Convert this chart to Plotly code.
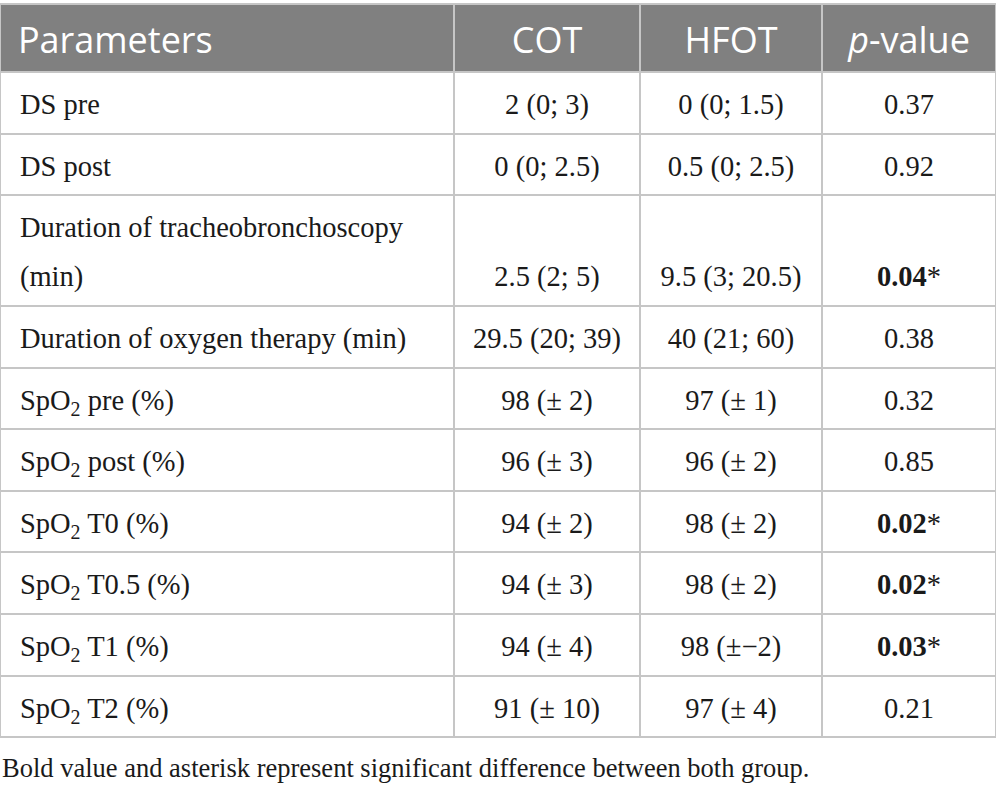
import numpy as np
import plotly.graph_objects as go

header_labels = ["Parameters", "COT", "HFOT", "<i>p</i>-value"]
parameters = [
    "DS pre",
    "DS post",
    "Duration of tracheobronchoscopy<br>(min)",
    "Duration of oxygen therapy (min)",
    "SpO<sub>2</sub> pre (%)",
    "SpO<sub>2</sub> post (%)",
    "SpO<sub>2</sub> T0 (%)",
    "SpO<sub>2</sub> T0.5 (%)",
    "SpO<sub>2</sub> T1 (%)",
    "SpO<sub>2</sub> T2 (%)",
]
cot = ["2 (0; 3)", "0 (0; 2.5)", "2.5 (2; 5)", "29.5 (20; 39)", "98 (± 2)",
       "96 (± 3)", "94 (± 2)", "94 (± 3)", "94 (± 4)", "91 (± 10)"]
hfot = ["0 (0; 1.5)", "0.5 (0; 2.5)", "9.5 (3; 20.5)", "40 (21; 60)", "97 (± 1)",
        "96 (± 2)", "98 (± 2)", "98 (± 2)", "98 (±\u22122)", "97 (± 4)"]
p_values = ["0.37", "0.92", "<b>0.04</b>*", "0.38", "0.32",
            "0.85", "<b>0.02</b>*", "<b>0.02</b>*", "<b>0.03</b>*", "0.21"]
footnote = "Bold value and asterisk represent significant difference between both group."

BODY = 28.5        # visible body text size
TWO_LINE_ROW = 2   # index of the wrapped row


def span(size, txt):
    return f'<span style="font-size:{size}px">{txt}</span>'


def nowrap(txt):
    # a trailing break stops the table from re-wrapping the markup
    return txt if "<br>" in txt else txt + "<br>"


lead = span(38, "\u00a0")            # vertical/left spacer
thin = span(BODY, "\u200a")


def first_col(txt, i):
    if i == TWO_LINE_ROW:
        l1, l2 = txt.split("<br>")
        return (lead + thin + span(BODY, l1) + "<br>" + lead + thin
                + span(BODY, l2) + span(54, "\u00a0"))
    return nowrap(lead + thin + span(BODY, txt))


def value_col(txt, i):
    if i == TWO_LINE_ROW:
        return lead + "<br>" + span(BODY, txt)
    return nowrap(lead + span(BODY, txt) + lead)


col0 = [first_col(t, i) for i, t in enumerate(parameters)]
col1 = [value_col(t, i) for i, t in enumerate(cot)]
col2 = [value_col(t, i) for i, t in enumerate(hfot)]
col3 = [value_col(t, i) for i, t in enumerate(p_values)]

# per-cell base font size (sets line spacing of the wrapped row)
base_sizes = np.full((4, len(parameters)), 27.0)
base_sizes[:, TWO_LINE_ROW] = 37.5

hlead = span(38, "\u00a0")
head_vals = [nowrap(hlead + header_labels[0])] + \
            [nowrap(hlead + h + hlead) for h in header_labels[1:]]

fig = go.Figure(go.Table(
    columnwidth=[454, 186, 182, 174],
    header=dict(
        values=head_vals,
        fill_color="#808080",
        line=dict(color="#c6c6c6", width=2),
        font=dict(family="Open Sans", size=36, color="white"),
        align=["left", "center", "center", "center"],
        height=68,
    ),
    cells=dict(
        values=[col0, col1, col2, col3],
        fill_color="white",
        line=dict(color="#c6c6c6", width=2),
        font=dict(family="Liberation Serif", size=base_sizes, color="#1a1a1a"),
        align=["left", "center", "center", "center"],
        height=61.6,
    ),
    domain=dict(x=[0, 1], y=[0.02, 1 - 4 / 791]),
))
fig.add_annotation(
    text=footnote, xref="paper", yref="paper", x=0, y=1 - 768 / 791,
    xanchor="left", yanchor="middle", showarrow=False,
    font=dict(family="Liberation Serif", size=26.5, color="#1a1a1a"),
)
fig.update_layout(width=996, height=791, margin=dict(l=0, r=0, t=0, b=0),
                  paper_bgcolor="white", plot_bgcolor="white")
fig.write_html("out.html", config={"displayModeBar": False},
               post_script="document.body.style.margin='0px';")
